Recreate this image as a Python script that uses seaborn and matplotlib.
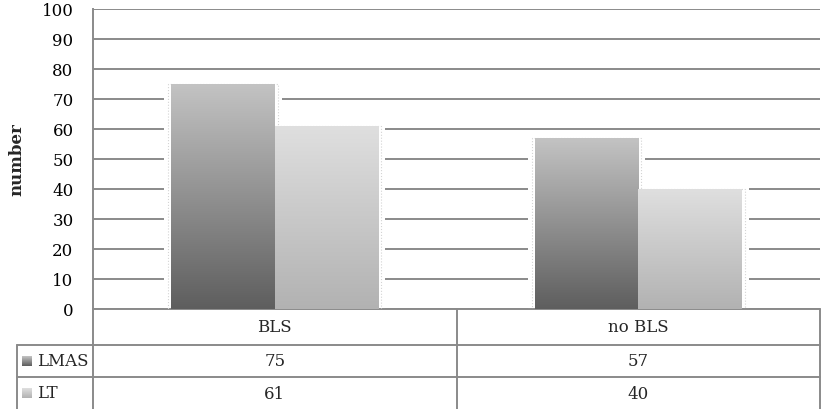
import matplotlib

matplotlib.use("Agg")

import matplotlib.pyplot as plt
import matplotlib.transforms as mtransforms
import numpy as np
import pandas as pd
import seaborn as sns
from matplotlib.colors import LinearSegmentedColormap
from matplotlib.patches import Rectangle

categories = ["BLS", "no BLS"]
series_names = ["LMAS", "LT"]
lmas_values = [75, 57]
lt_values = [61, 40]
y_ticks = [0, 10, 20, 30, 40, 50, 60, 70, 80, 90, 100]
y_label = "number"

# bottom -> top colours of the gradient fills
gradients = {
    "LMAS": ("#5e5e5e", "#c3c3c3"),
    "LT": ("#b2b2b2", "#dfdfdf"),
}
line_color = "#8a8a8a"
font = "DejaVu Serif"
fsize = 12

W, H = 830, 410
AX_L, AX_R, AX_T, AX_B = 93, 820, 10, 310


def ax_x(px):
    return (px - AX_L) / (AX_R - AX_L)


def ax_y(py):
    return (AX_B - py) / (AX_B - AX_T)


data = pd.DataFrame(
    {
        "category": categories * 2,
        "series": [series_names[0]] * len(categories) + [series_names[1]] * len(categories),
        "value": lmas_values + lt_values,
    }
)

sns.set_style("white")
plt.rcParams["font.family"] = [font, "DejaVu Sans"]

fig = plt.figure(figsize=(W / 100, H / 100), dpi=100)
ax = fig.add_axes([AX_L / W, 1 - AX_B / H, (AX_R - AX_L) / W, (AX_B - AX_T) / H])

sns.barplot(
    data=data,
    x="category",
    y="value",
    hue="series",
    hue_order=series_names,
    order=categories,
    width=0.57,
    palette=["#777777", "#cccccc"],
    legend=False,
    ax=ax,
    zorder=3,
)

px_unit = 2.0 / (AX_R - AX_L)  # data units per pixel along x
bars = [p for p in ax.patches if isinstance(p, Rectangle)]
for i, bar in enumerate(bars):
    name = series_names[i // len(categories)]
    x0, w, h = bar.get_x(), bar.get_width(), bar.get_height()
    # white halo that interrupts the gridlines around each bar
    ax.add_patch(Rectangle((x0 - 7 * px_unit, 0), w + 14 * px_unit, h + 0.3,
                           facecolor="white", edgecolor="none", zorder=2))
    ax.add_patch(Rectangle((x0 - 3 * px_unit, 0), w + 6 * px_unit, h,
                           facecolor="none", edgecolor="#d4d4d4", linestyle=":",
                           linewidth=0.8, zorder=2.5))
    cmap = LinearSegmentedColormap.from_list(name, gradients[name])
    grad = np.linspace(0, 1, 256).reshape(-1, 1)
    ax.imshow(grad, cmap=cmap, extent=[x0, x0 + w, 0, h], origin="lower",
              aspect="auto", zorder=3)
    bar.set_visible(False)

ax.set_xlim(-0.5, 1.5)
ax.set_ylim(0, 100)
ax.set_yticks(y_ticks)
ax.set_yticklabels([str(t) for t in y_ticks], fontsize=fsize, family=[font, "DejaVu Sans"])
ax.set_xticks([])
ax.set_xlabel("")
ax.set_ylabel(y_label, fontsize=fsize, fontweight="bold", family=[font, "DejaVu Sans"])
ax.yaxis.set_label_coords(ax_x(25), 0.5)
ax.tick_params(axis="y", length=0, pad=14, colors="black")
ax.grid(axis="y", color=line_color, linewidth=1.4, zorder=1)
ax.set_axisbelow(True)
for side in ["top", "right", "bottom"]:
    ax.spines[side].set_visible(False)
ax.spines["left"].set_color(line_color)
ax.spines["left"].set_linewidth(1.4)

# data table under the plot
lkw = dict(color=line_color, linewidth=1.4, transform=ax.transAxes, clip_on=False)
row_lines = [310, 346, 378]
for py in row_lines:
    x_start = AX_L if py == AX_B else 17
    ax.plot([ax_x(x_start), ax_x(AX_R)], [ax_y(py), ax_y(py)], **lkw)
ax.plot([ax_x(AX_L)] * 2, [ax_y(AX_B), ax_y(H + 5)], **lkw)
ax.plot([ax_x(AX_R)] * 2, [ax_y(AX_B), ax_y(H + 5)], **lkw)
ax.plot([0.5, 0.5], [ax_y(AX_B), ax_y(H + 5)], **lkw)
ax.plot([ax_x(17)] * 2, [ax_y(346), ax_y(H + 5)], **lkw)

blend = mtransforms.blended_transform_factory(ax.transData, ax.transAxes)
tkw = dict(ha="center", va="center", fontsize=fsize, transform=blend,
           family=[font, "DejaVu Sans"])
for j, cat in enumerate(categories):
    ax.text(j, ax_y(328), cat, **tkw)
    ax.text(j, ax_y(362), str(lmas_values[j]), **tkw)
    ax.text(j, ax_y(395), str(lt_values[j]), **tkw)

row_y = [362, 394]
for name, py in zip(series_names, row_y):
    ax.text(ax_x(37), ax_y(py), name, ha="left", va="center", fontsize=fsize,
            transform=ax.transAxes, family=[font, "DejaVu Sans"])
    cmap = LinearSegmentedColormap.from_list(name + "_key", gradients[name])
    key_ax = fig.add_axes([22 / W, 1 - (py + 5) / H, 10 / W, 10 / H])
    key_ax.imshow(np.linspace(0, 1, 32).reshape(-1, 1), cmap=cmap, origin="lower",
                  aspect="auto")
    key_ax.set_axis_off()

fig.savefig("out.png", dpi=100)
plt.close(fig)
